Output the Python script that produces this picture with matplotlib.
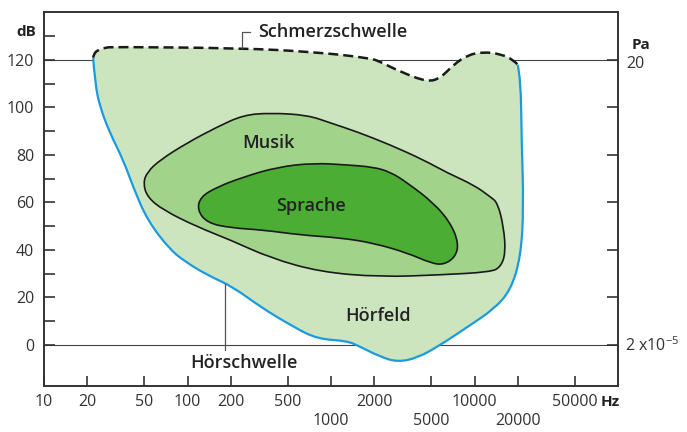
import matplotlib
matplotlib.use("Agg")
import numpy as np
import matplotlib.pyplot as plt
from matplotlib.path import Path
from matplotlib.patches import PathPatch
from matplotlib.ticker import FixedLocator, NullLocator

plt.rcParams['font.family'] = ['Open Sans', 'DejaVu Sans']
plt.rcParams['mathtext.fontset'] = 'custom'
plt.rcParams['mathtext.rm'] = 'Open Sans'
plt.rcParams['mathtext.it'] = 'Open Sans'

# ---- data (Hz, dB) ----
# Hörschwelle (threshold of hearing), from top-left, down and around to top-right
hs_f = [22, 22.7, 24.6, 28.9, 35.6, 41.8, 52.4, 75.7, 99.5, 137, 208, 322, 547, 804,
        1300, 1600, 2210, 2900, 4000, 5800, 8950, 13600, 17850, 21000, 22000, 21300, 21000, 20000]
hs_db = [121, 110, 100, 89, 78, 66.5, 52.6, 40, 34.5, 29.5, 24.4, 16, 7.6, 2.5,
         1.7, -0.8, -5, -7.2, -5.5, 0, 7.6, 15, 23, 37, 58, 86, 112, 118]

# Schmerzschwelle (threshold of pain), left to right
ss_f = [22, 22.3, 23.4, 26.7, 30.3, 233, 754, 1880, 2210, 3050, 4700, 5800, 7150, 8950,
        11580, 15200, 18750, 20000]
ss_db = [121, 122.5, 124, 125.2, 125.5, 125, 123.4, 120.8, 119.2, 115, 110.7, 112.4, 118, 122.1,
         123.4, 122.5, 120, 118]

# Musik region outline
mu_f = [49.1, 52.4, 64.4, 99.5, 161, 245, 378, 684, 990, 1528, 2598, 4416, 6490, 9860,
        12950, 14490, 15960, 16480, 15200, 12950, 5800, 2210, 843, 378, 199, 117, 67.6, 52.4]
mu_db = [68.2, 72.8, 77.9, 85.1, 91.8, 96.8, 97.7, 96.8, 93.5, 89.7, 84.2, 77.9, 72.4, 67.4,
         62.3, 59.8, 49.7, 38.7, 32.8, 30.7, 29.5, 28.6, 30.7, 36.6, 44.2, 49.7, 56.8, 62.3]

# Sprache region outline
sp_f = [117, 123, 161, 245, 423, 754, 1300, 1977, 2598, 3415, 5185, 6810, 7745, 7380,
        6085, 4940, 3415, 1977, 1164, 611, 337, 199, 137]
sp_db = [56.8, 62.3, 66.5, 70.7, 74.9, 76.6, 75.8, 74.9, 72.8, 68.2, 59.8, 51.4, 42.9, 37.1,
         33.7, 34.5, 38.7, 42.9, 45.1, 46.3, 48.4, 49.3, 51.4]

x_ticks = [10, 20, 50, 100, 200, 500, 1000, 2000, 5000, 10000, 20000, 50000]
x_labels = ['10', '20', '50', '100', '200', '500', '\n1000', '2000', '\n5000', '10000', '\n20000', '50000']
y_major = [0, 20, 40, 60, 80, 100, 120]
y_minor = [10, 30, 50, 70, 90, 110, 130]
pa_ticks = [0, 20, 40, 60, 80, 100, 120]


def _mid(p, q):
    # midpoint in display-like space (log frequency, linear dB)
    return (10 ** ((np.log10(p[0]) + np.log10(q[0])) / 2), (p[1] + q[1]) / 2)


def smooth_open(fs, ds):
    pts = list(zip(fs, ds))
    verts = [pts[0]]
    codes = [Path.MOVETO]
    for i in range(1, len(pts) - 1):
        end = pts[i + 1] if i == len(pts) - 2 else _mid(pts[i], pts[i + 1])
        verts += [pts[i], end]
        codes += [Path.CURVE3, Path.CURVE3]
    return verts, codes


def smooth_closed(fs, ds):
    pts = list(zip(fs, ds))
    n = len(pts)
    verts = [_mid(pts[0], pts[1])]
    codes = [Path.MOVETO]
    for i in range(1, n + 1):
        c = pts[i % n]
        e = _mid(pts[i % n], pts[(i + 1) % n])
        verts += [c, e]
        codes += [Path.CURVE3, Path.CURVE3]
    verts.append(verts[0])
    codes.append(Path.CLOSEPOLY)
    return Path(verts, codes)


# ---- figure ----
fig = plt.figure(figsize=(6.87, 4.32), dpi=100)
ax = fig.add_axes([44/687, 1-386/432, (618-44)/687, (386-12)/432])
ax.set_xscale('log')
ax.set_xlim(10, 1e5)
ax.set_ylim(-17.3, 140.2)

c_field = '#cde5bf'
c_musik = '#a2d38a'
c_sprache = '#4cad35'
c_blue = '#1a9be0'
c_dark = '#333333'

# reference lines at 120 dB and 0 dB
ax.plot([10, 1e5], [120, 120], color='#444444', lw=0.8, zorder=1)
ax.plot([10, 1e5], [0, 0], color='#444444', lw=0.8, zorder=1)

# Hörfeld fill: pain threshold (left->right) then hearing threshold (right->left)
v1, c1 = smooth_open(ss_f, ss_db)
v2, c2 = smooth_open(hs_f[::-1], hs_db[::-1])
c2 = [Path.LINETO] + c2[1:]
field = Path(v1 + v2 + [v1[0]], c1 + c2 + [Path.CLOSEPOLY])
ax.add_patch(PathPatch(field, facecolor=c_field, lw=0, zorder=2))

ax.add_patch(PathPatch(smooth_closed(mu_f, mu_db), facecolor=c_musik, edgecolor='#1a1a1a',
                       lw=1.2, zorder=3))
ax.add_patch(PathPatch(smooth_closed(sp_f, sp_db), facecolor=c_sprache, edgecolor='#1a1a1a',
                       lw=1.2, zorder=4))

vh, ch = smooth_open(hs_f, hs_db)
ax.add_patch(PathPatch(Path(vh, ch), facecolor='none', edgecolor=c_blue, lw=1.6, zorder=5))
vs, cs = smooth_open(ss_f, ss_db)
ax.add_patch(PathPatch(Path(vs, cs), facecolor='none', edgecolor='#1a1a1a', lw=1.8,
                       linestyle=(0, (4, 2)), zorder=5))

# leader lines
ax.plot([241, 241, 274], [125, 131.8, 131.8], color='#555555', lw=0.9, zorder=5)
ax.plot([183, 183], [25.8, -2.2], color='#555555', lw=0.9, zorder=5)

# labels
tkw = dict(fontsize=13, fontweight='semibold', color='#222222', zorder=6)
ax.text(311, 131.8, 'Schmerzschwelle', ha='left', va='center', **tkw)
ax.text(366, 85, 'Musik', ha='center', va='center', **tkw)
ax.text(730, 58.5, 'Sprache', ha='center', va='center', **tkw)
ax.text(2140, 12.2, 'Hörfeld', ha='center', va='center', **tkw)
ax.text(249, -7.5, 'Hörschwelle', ha='center', va='center', **tkw)

# axes styling
for s in ax.spines.values():
    s.set_color(c_dark)
    s.set_linewidth(1.4)

ax.xaxis.set_major_locator(FixedLocator(x_ticks))
ax.set_xticklabels(x_labels)
ax.xaxis.set_minor_locator(NullLocator())
ax.yaxis.set_major_locator(FixedLocator(y_major))
ax.yaxis.set_minor_locator(FixedLocator(y_minor))
ax.tick_params(axis='x', which='major', direction='in', length=7, width=1.2, color=c_dark,
               labelsize=11.5, labelcolor=c_dark, pad=6)
ax.tick_params(axis='y', which='both', direction='in', length=8, width=1.2, color=c_dark,
               labelsize=11.5, labelcolor=c_dark, pad=7)

# right (Pa) axis ticks
ax2 = ax.twinx()
ax2.set_ylim(ax.get_ylim())
ax2.yaxis.set_major_locator(FixedLocator(pa_ticks))
ax2.set_yticklabels([])
ax2.tick_params(axis='y', direction='in', length=8, width=1.2, color=c_dark)
for s in ax2.spines.values():
    s.set_visible(False)

fig.text(26/687, 1-32/432, 'dB', ha='center', va='center', fontsize=11, fontweight='bold', color='#222222')
fig.text(641/687, 1-45/432, 'Pa', ha='center', va='center', fontsize=11, fontweight='bold', color='#222222')
fig.text(626/687, 1-64/432, '20', ha='left', va='center', fontsize=11.5, color=c_dark)
fig.text(625/687, 1-346/432, r'2 x10$^{-5}$', ha='left', va='center', fontsize=11.5, color=c_dark)
fig.text(620/687, 1-402/432, 'Hz', ha='right', va='center', fontsize=11, fontweight='bold', color='#222222')

fig.savefig('out.png', dpi=100)
